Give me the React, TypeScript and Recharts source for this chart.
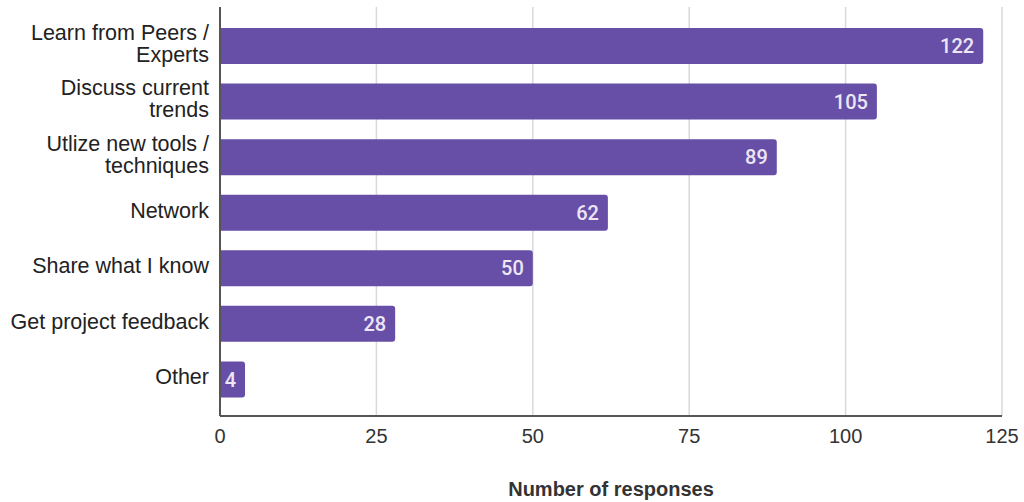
import React from 'react';
import { BarChart, Bar, XAxis, YAxis, CartesianGrid, LabelList } from 'recharts';

// Survey answers, top to bottom; "\n" marks where a long label breaks
const categories = [
  'Learn from Peers /\nExperts',
  'Discuss current\ntrends',
  'Utlize new tools /\ntechniques',
  'Network',
  'Share what I know',
  'Get project feedback',
  'Other',
];
const responses = [122, 105, 89, 62, 50, 28, 4];
const xTicks = [0, 25, 50, 75, 100, 125];
const xTitle = 'Number of responses';

const data = categories.map((name, i) => ({ name, value: responses[i] }));

const FONT = '"Liberation Sans", Arial, sans-serif';
const BAR = '#674ea7';

const CategoryTick = (props: any) => {
  const { x, y, payload } = props;
  const lines: string[] = String(payload.value).split('\n');
  const lh = 22;
  const startDy = -((lines.length - 1) * lh) / 2 - 2;
  return (
    <text
      x={x}
      y={y}
      textAnchor="end"
      fill="#222"
      fontFamily={FONT}
      fontSize={21.5}
      dominantBaseline="central"
    >
      {lines.map((ln, i) => (
        <tspan key={i} x={x} dy={i === 0 ? startDy : lh}>
          {ln}
        </tspan>
      ))}
    </text>
  );
};

export default function App() {
  return (
    <div style={{ position: 'absolute', left: 0, top: 0, background: '#fff' }}>
      <BarChart
        width={1024}
        height={502}
        data={data}
        layout="vertical"
        margin={{ top: 7, right: 22, bottom: 0, left: 0 }}
        barSize={36}
      >
        <CartesianGrid horizontal={false} stroke="#d9d9d9" strokeWidth={1.5} />
        <XAxis
          type="number"
          domain={[0, 125]}
          ticks={xTicks}
          height={86}
          tickLine={false}
          tickSize={0}
          tickMargin={13}
          axisLine={{ stroke: '#555', strokeWidth: 2 }}
          tick={{ fill: '#333', fontFamily: FONT, fontSize: 20 }}
          label={{
            value: xTitle,
            position: 'insideBottom',
            offset: 6,
            fill: '#333',
            fontFamily: FONT,
            fontSize: 20,
            fontWeight: 'bold',
          }}
        />
        <YAxis
          type="category"
          dataKey="name"
          width={220}
          tickLine={false}
          tickSize={0}
          tickMargin={11}
          padding={{ top: 11, bottom: 9 }}
          axisLine={{ stroke: '#555', strokeWidth: 2 }}
          tick={<CategoryTick />}
          interval={0}
        />
        <Bar dataKey="value" fill={BAR} radius={[0, 3, 3, 0]} isAnimationActive={false}>
          <LabelList
            dataKey="value"
            position="insideRight"
            offset={9}
            fill="#ece6f5"
            fontFamily="Roboto, sans-serif"
            fontWeight={500}
            fontSize={20}
          />
        </Bar>
      </BarChart>
    </div>
  );
}
